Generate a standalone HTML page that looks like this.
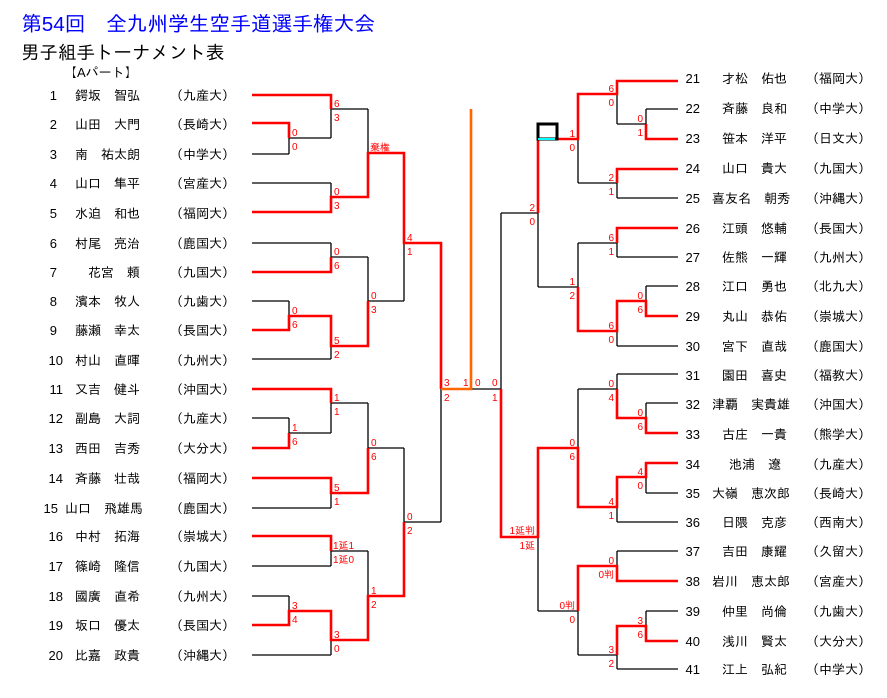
<!DOCTYPE html>
<html><head><meta charset="utf-8"><style>
html,body{margin:0;padding:0;background:#fff;}
svg{display:block;font-family:"Liberation Sans","IPAGothic","Noto Sans CJK JP",sans-serif;}
.n{font-size:13px;fill:#000;}
.s{font-size:10px;fill:#f00;}
.r{text-anchor:end;}
</style></head><body>
<svg width="887" height="698" viewBox="0 0 887 698" xmlns="http://www.w3.org/2000/svg">
<text x="21" y="31" font-size="20.7" fill="#00f">第54回　全九州学生空手道選手権大会</text>
<text x="21" y="59" font-size="18.5" fill="#000">男子組手トーナメント表</text>
<text x="64" y="77" font-size="13" fill="#000">【Aパート】</text>

<path fill="none" stroke="#000" stroke-width="1.3" d="
M252 95H331 M252 123H289 M252 154H289 M289 123V154 M289 138H331 M331 95V138 M331 109H368
M252 183H331 M252 212H331 M331 183V212 M331 197H368 M368 109V197 M368 153H404
M252 243H331 M252 272H331 M331 243V272 M331 257H368
M252 301H289 M252 330H289 M289 301V330 M289 316H331 M252 359H331 M331 316V359 M331 346H368
M368 257V346 M368 301H404 M404 153V301 M404 243H441
M252 389H331 M252 418H289 M252 448H289 M289 418V448 M289 433H331 M331 389V433 M331 403H368
M252 478H331 M252 508H331 M331 478V508 M331 493H368 M368 403V493 M368 448H404
M252 536H331 M252 566H331 M331 536V566 M331 551H368
M252 596H289 M252 625H289 M289 596V625 M289 611H331 M252 655H331 M331 611V655 M331 640H368
M368 551V640 M368 596H404 M404 448V596 M404 522H441 M441 243V522
M471 389H501 M501 213V537 M538 139V287 M538 213H501
M678 81H617 M678 109H646 M678 139H646 M646 109V139 M646 124H617 M617 81V124 M617 94H578
M678 169H617 M678 198H617 M617 169V198 M617 183H578 M578 94V183 M578 139H538
M678 228H617 M678 257H617 M617 228V257 M617 243H578
M678 286H646 M678 316H646 M646 286V316 M646 301H617 M678 346H617 M617 301V346 M617 331H578 M578 243V331 M578 287H538
M678 374H617 M678 403H646 M678 433H646 M646 403V433 M646 418H617 M617 374V418 M617 389H578
M678 463H646 M678 493H646 M646 463V493 M646 477H617 M678 522H617 M617 477V522 M617 507H578 M578 389V507 M578 448H538
M678 551H617 M678 581H617 M617 551V581 M617 566H578
M678 611H646 M678 641H646 M646 611V641 M646 626H617 M678 669H617 M617 626V669 M617 655H578 M578 566V655 M578 611H538 M538 448V611 M538 537H501"/>

<path fill="none" stroke="#f00" stroke-width="2.6" d="
M252 95H331V109 M252 123H289V138 M252 212H331V197H368V153H404V243H441V389 M252 272H331V257 M252 330H289V316H331V346H368V301
M252 389H331V403 M252 448H289V433 M252 478H331V493H368V448 M252 536H331V551 M252 625H289V611H331V640H368V596H404V522
M678 81H617V94H578V139H558 M538 139V213 M678 139H646V124 M678 169H617V183 M678 228H617V243 M678 316H646V301H617V331H578V287
M501 389V537H538V448H578V507H617V477H646V463H678 M617 389V418H646V433H678 M678 581H617V566H578V611 M678 641H646V626H617V655"/>

<path fill="none" stroke="#f60" stroke-width="2.6" d="M441 389H471V109"/>
<rect x="538" y="124" width="19" height="15" fill="none" stroke="#000" stroke-width="3"/>
<path d="M538 139H555" stroke="#0ff" stroke-width="2"/>

<g class="s">
<text x="334" y="107">6</text><text x="334" y="121">3</text>
<text x="292" y="136">0</text><text x="292" y="150">0</text>
<text x="334" y="195">0</text><text x="334" y="209">3</text>
<text x="370" y="151">棄権</text>
<text x="407" y="241">4</text><text x="407" y="255">1</text>
<text x="334" y="255">0</text><text x="334" y="269">6</text>
<text x="292" y="314">0</text><text x="292" y="328">6</text>
<text x="371" y="299">0</text><text x="371" y="313">3</text>
<text x="334" y="344">5</text><text x="334" y="358">2</text>
<text x="334" y="401">1</text><text x="334" y="415">1</text>
<text x="292" y="431">1</text><text x="292" y="445">6</text>
<text x="371" y="446">0</text><text x="371" y="460">6</text>
<text x="334" y="491">5</text><text x="334" y="505">1</text>
<text x="407" y="520">0</text><text x="407" y="534">2</text>
<text x="333" y="549">1延1</text><text x="333" y="563">1延0</text>
<text x="371" y="594">1</text><text x="371" y="608">2</text>
<text x="292" y="609">3</text><text x="292" y="623">4</text>
<text x="334" y="638">3</text><text x="334" y="652">0</text>
<text x="444" y="386">3</text><text x="444" y="401">2</text>
<text x="463" y="386">1</text><text x="475" y="386">0</text>
<text x="492" y="386">0</text><text x="492" y="401">1</text>
</g>
<g class="s r">
<text x="614" y="92">6</text><text x="614" y="106">0</text>
<text x="643" y="122">0</text><text x="643" y="136">1</text>
<text x="575" y="137">1</text><text x="575" y="151">0</text>
<text x="614" y="181">2</text><text x="614" y="195">1</text>
<text x="535" y="211">2</text><text x="535" y="225">0</text>
<text x="614" y="241">6</text><text x="614" y="255">1</text>
<text x="643" y="299">0</text><text x="643" y="313">6</text>
<text x="575" y="285">1</text><text x="575" y="299">2</text>
<text x="614" y="329">6</text><text x="614" y="343">0</text>
<text x="614" y="387">0</text><text x="614" y="401">4</text>
<text x="643" y="416">0</text><text x="643" y="430">6</text>
<text x="575" y="446">0</text><text x="575" y="460">6</text>
<text x="643" y="475">4</text><text x="643" y="489">0</text>
<text x="614" y="505">4</text><text x="614" y="519">1</text>
<text x="535" y="534">1延判</text><text x="535" y="549">1延</text>
<text x="614" y="564">0</text><text x="614" y="578">0判</text>
<text x="575" y="609">0判</text><text x="575" y="623">0</text>
<text x="643" y="624">3</text><text x="643" y="638">6</text>
<text x="614" y="653">3</text><text x="614" y="667">2</text>
</g>

<g class="n">
<text x="57" y="100" class="r">1</text><text x="75" y="100">鍔坂　智弘</text><text x="170" y="100">（九産大）</text>
<text x="57" y="129" class="r">2</text><text x="75" y="129">山田　大門</text><text x="170" y="129">（長崎大）</text>
<text x="57" y="159" class="r">3</text><text x="75" y="159">南　祐太朗</text><text x="170" y="159">（中学大）</text>
<text x="57" y="188" class="r">4</text><text x="75" y="188">山口　隼平</text><text x="170" y="188">（宮産大）</text>
<text x="57" y="218" class="r">5</text><text x="75" y="218">水迫　和也</text><text x="170" y="218">（福岡大）</text>
<text x="57" y="248" class="r">6</text><text x="75" y="248">村尾　亮治</text><text x="170" y="248">（鹿国大）</text>
<text x="57" y="277" class="r">7</text><text x="75" y="277">　花宮　頼</text><text x="170" y="277">（九国大）</text>
<text x="57" y="306" class="r">8</text><text x="75" y="306">濱本　牧人</text><text x="170" y="306">（九歯大）</text>
<text x="57" y="335" class="r">9</text><text x="75" y="335">藤瀬　幸太</text><text x="170" y="335">（長国大）</text>
<text x="63" y="365" class="r">10</text><text x="75" y="365">村山　直暉</text><text x="170" y="365">（九州大）</text>
<text x="63" y="394" class="r">11</text><text x="75" y="394">又吉　健斗</text><text x="170" y="394">（沖国大）</text>
<text x="63" y="423" class="r">12</text><text x="75" y="423">副島　大詞</text><text x="170" y="423">（九産大）</text>
<text x="63" y="453" class="r">13</text><text x="75" y="453">西田　吉秀</text><text x="170" y="453">（大分大）</text>
<text x="63" y="483" class="r">14</text><text x="75" y="483">斉藤　壮哉</text><text x="170" y="483">（福岡大）</text>
<text x="58" y="513" class="r">15</text><text x="65" y="513">山口　飛雄馬</text><text x="170" y="513">（鹿国大）</text>
<text x="63" y="541" class="r">16</text><text x="75" y="541">中村　拓海</text><text x="170" y="541">（崇城大）</text>
<text x="63" y="571" class="r">17</text><text x="75" y="571">篠崎　隆信</text><text x="170" y="571">（九国大）</text>
<text x="63" y="601" class="r">18</text><text x="75" y="601">國廣　直希</text><text x="170" y="601">（九州大）</text>
<text x="63" y="630" class="r">19</text><text x="75" y="630">坂口　優太</text><text x="170" y="630">（長国大）</text>
<text x="63" y="660" class="r">20</text><text x="75" y="660">比嘉　政貴</text><text x="170" y="660">（沖縄大）</text>
</g>
<g class="n">
<text x="700" y="83" class="r">21</text><text x="722" y="83">才松　佑也</text><text x="806" y="83">（福岡大）</text>
<text x="700" y="113" class="r">22</text><text x="722" y="113">斉藤　良和</text><text x="806" y="113">（中学大）</text>
<text x="700" y="143" class="r">23</text><text x="722" y="143">笹本　洋平</text><text x="806" y="143">（日文大）</text>
<text x="700" y="173" class="r">24</text><text x="722" y="173">山口　貴大</text><text x="806" y="173">（九国大）</text>
<text x="700" y="203" class="r">25</text><text x="712" y="203">喜友名　朝秀</text><text x="806" y="203">（沖縄大）</text>
<text x="700" y="233" class="r">26</text><text x="722" y="233">江頭　悠輔</text><text x="806" y="233">（長国大）</text>
<text x="700" y="262" class="r">27</text><text x="722" y="262">佐熊　一輝</text><text x="806" y="262">（九州大）</text>
<text x="700" y="291" class="r">28</text><text x="722" y="291">江口　勇也</text><text x="806" y="291">（北九大）</text>
<text x="700" y="321" class="r">29</text><text x="722" y="321">丸山　恭佑</text><text x="806" y="321">（崇城大）</text>
<text x="700" y="351" class="r">30</text><text x="722" y="351">宮下　直哉</text><text x="806" y="351">（鹿国大）</text>
<text x="700" y="380" class="r">31</text><text x="722" y="380">園田　喜史</text><text x="806" y="380">（福教大）</text>
<text x="700" y="409" class="r">32</text><text x="712" y="409">津覇　実貴雄</text><text x="806" y="409">（沖国大）</text>
<text x="700" y="439" class="r">33</text><text x="722" y="439">古庄　一貴</text><text x="806" y="439">（熊学大）</text>
<text x="700" y="469" class="r">34</text><text x="729" y="469">池浦　遼</text><text x="806" y="469">（九産大）</text>
<text x="700" y="498" class="r">35</text><text x="712" y="498">大嶺　恵次郎</text><text x="806" y="498">（長崎大）</text>
<text x="700" y="527" class="r">36</text><text x="722" y="527">日隈　克彦</text><text x="806" y="527">（西南大）</text>
<text x="700" y="556" class="r">37</text><text x="722" y="556">吉田　康耀</text><text x="806" y="556">（久留大）</text>
<text x="700" y="586" class="r">38</text><text x="712" y="586">岩川　恵太郎</text><text x="806" y="586">（宮産大）</text>
<text x="700" y="616" class="r">39</text><text x="722" y="616">仲里　尚倫</text><text x="806" y="616">（九歯大）</text>
<text x="700" y="646" class="r">40</text><text x="722" y="646">浅川　賢太</text><text x="806" y="646">（大分大）</text>
<text x="700" y="674" class="r">41</text><text x="722" y="674">江上　弘紀</text><text x="806" y="674">（中学大）</text>
</g>
</svg>
</body></html>
